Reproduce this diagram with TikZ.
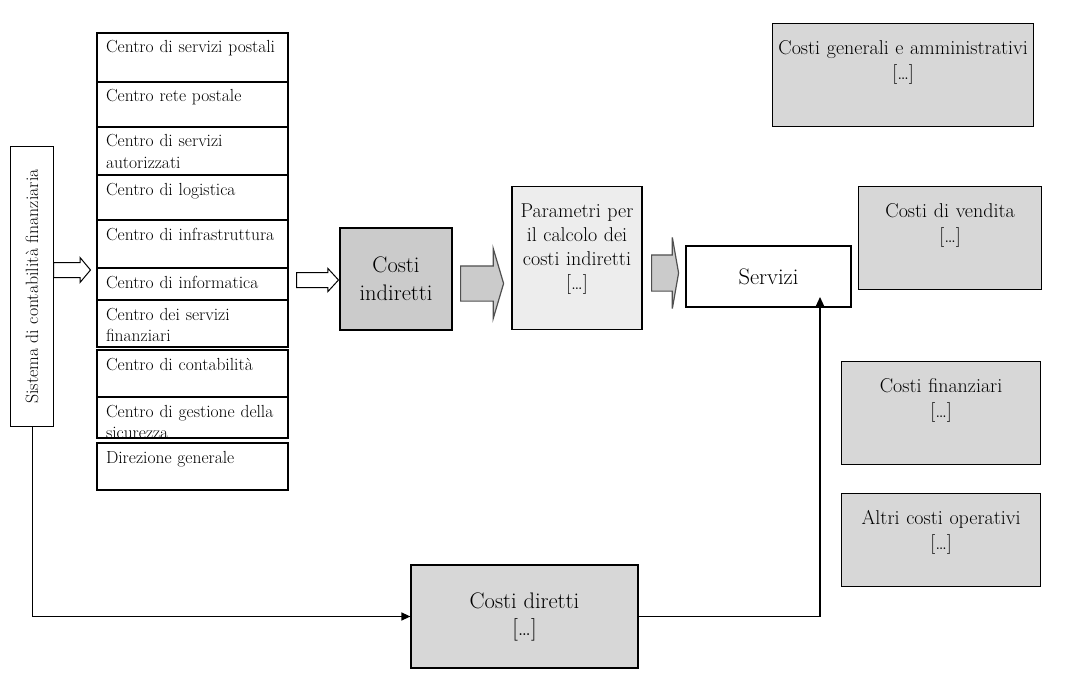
\documentclass[tikz,border=0pt]{standalone}
\usepackage{graphicx}
\usetikzlibrary{positioning, shapes.arrows, arrows.meta, calc}
\definecolor{midgray}{HTML}{CBCBCB}
\definecolor{costgray}{HTML}{D7D7D7}
\definecolor{lightgray}{HTML}{EDEDED}
\definecolor{edgegray}{HTML}{505050}
\tikzset{
  cell/.style={draw, line width=1.1pt, outer sep=0pt, anchor=north west,
    text width=173pt, align=left, inner xsep=9pt, inner ysep=8pt,
    text height=12pt, text depth=#1, font=\fontsize{17.5}{21}\selectfont},
  cost/.style={draw, line width=1.2pt, fill=costgray, anchor=north west,
    align=center, inner xsep=4pt, inner ysep=6pt, text height=25pt,
    text depth=#1, font=\fontsize{20}{25}\selectfont},
  bigbox/.style={draw, line width=1.2pt, align=center,
    font=\fontsize{22.5}{28}\selectfont},
  openarr/.style={single arrow, draw, line width=1pt, fill=white,
    inner sep=0pt, anchor=tail},
  grayarr/.style={single arrow, draw=edgegray, line width=1.2pt, fill=midgray,
    inner sep=0pt, anchor=tail},
  link/.style={line width=1.2pt, -{Triangle[length=9pt, width=8pt]}},
}
\begin{document}
\begin{tikzpicture}[x=1pt, y=-1pt]
  \useasboundingbox (0,0) rectangle (1066,682);

  % source
  \node (sis) [draw, line width=1.2pt, anchor=north west, minimum width=43,
    minimum height=280, inner sep=0pt, font=\fontsize{17.8}{20}\selectfont]
    at (10,146) {\rotatebox{90}{Sistema di contabilità finanziaria}};

  % cost centres
  \node (c1) [cell=21pt] at (97,33) {Centro di servizi postali};
  \node (c2) [cell=17pt, below=0pt of c1] {Centro rete postale};
  \node (c3) [cell=20pt, below=0pt of c2] {Centro di servizi\\autorizzati};
  \node (c4) [cell=17pt, below=0pt of c3] {Centro di logistica};
  \node (c5) [cell=20pt, below=0pt of c4] {Centro di infrastruttura};
  \node (c6) [cell=4pt, below=0pt of c5] {Centro di informatica};
  \node (c7) [cell=19pt, below=0pt of c6] {Centro dei servizi\\finanziari};
  \node (c8) [cell=19pt, below=3pt of c7] {Centro di contabilità};
  \node (c9) [cell=13pt, below=0pt of c8] {Centro di gestione della\\sicurezza};
  \node (c10) [cell=19pt, below=5pt of c9] {Direzione generale};

  % flow
  \node (ci) [bigbox, fill=midgray, minimum width=112, minimum height=102]
    at (396,279) {Costi\\indiretti};
  \node (par) [draw, line width=1.2pt, fill=lightgray, anchor=north,
    text width=120pt, align=center, inner xsep=5pt, inner ysep=8pt,
    text height=23pt, text depth=104pt, font=\fontsize{20}{24}\selectfont]
    at (577,186) {Parametri per\\il calcolo dei\\costi indiretti\\{[}\dots{]}};
  \node (serv) [bigbox, fill=white, minimum width=165, minimum height=61]
    at (768.5,276.5) {Servizi};
  \node (cd) [bigbox, fill=costgray, minimum width=227, minimum height=103,
    font=\fontsize{22.5}{27}\selectfont] at (524.5,616.5) {Costi diretti\\{[}\dots{]}};

  % other costs
  \node (gen) [cost=66pt, text width=253pt] at (772,23)
    {Costi generali e amministrativi\\{[}\dots{]}};
  \node (ven) [cost=66pt, text width=175pt] at (858,186)
    {Costi di vendita\\{[}\dots{]}};
  \node (fin) [cost=66pt, text width=191pt] at (841,361)
    {Costi finanziari\\{[}\dots{]}};
  \node (alt) [cost=56pt, text width=191pt] at (841,493)
    {Altri costi operativi\\{[}\dots{]}};

  % block arrows
  \node (a1) [openarr, minimum height=37, text height=14pt,
    single arrow head extend=5pt, single arrow tip angle=100] at (53,270) {};
  \node (a2) [openarr, minimum height=42, text height=14pt,
    single arrow head extend=4pt, single arrow tip angle=95] at (296,280) {};
  \node (a3) [grayarr, minimum height=43, text height=34pt,
    single arrow head extend=17.5pt, single arrow tip angle=147] at (460,283.5) {};
  \node (a4) [grayarr, minimum height=27, text height=35pt,
    single arrow head extend=17.5pt, single arrow tip angle=160] at (651,273) {};

  % direct costs path
  \coordinate (tip) at (820,297);
  \draw[link] (sis.south) |- (cd.west);
  \draw[link] (cd.east) -| (tip);
\end{tikzpicture}
\end{document}
